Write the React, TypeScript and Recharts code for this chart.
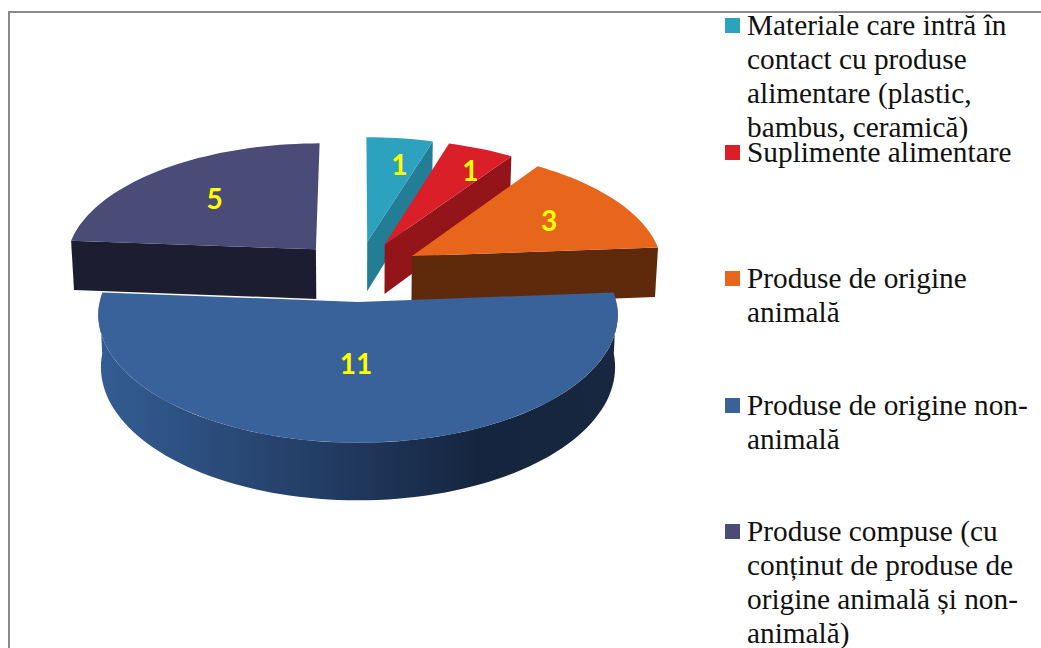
import { Legend, Pie, PieChart } from 'recharts';

const categories = [
  'Materiale care intră în contact cu produse alimentare (plastic, bambus, ceramică)',
  'Suplimente alimentare',
  'Produse de origine animală',
  'Produse de origine non-animală',
  'Produse compuse (cu conținut de produse de origine animală și non-animală)',
];
const counts = [1, 1, 3, 11, 5];

// top face, cut face / wall colours, same order as categories
const topColors = ['#2DA2BF', '#DA1F28', '#E8651C', '#386299', '#4A4B77'];
const wallColors = ['#237E95', '#931419', '#5E2A0B', '#1F3557', '#1C1D30'];
const labelReach = [0.72, 0.75, 0.64, 0.47, 0.6];
const labelNudgeX = [8, 12, 5, -2, -6];
const labelNudgeY = [-1, -1, 0, -1, -2];

// the compound slice is painted first so the big slice ends up in front of its wall
const paintOrder = [4, 0, 1, 2, 3];
const pieData = paintOrder.map((i) => ({
  name: categories[i],
  value: counts[i],
  fill: topColors[i],
  wall: wallColors[i],
  reach: labelReach[i],
  nudgeX: labelNudgeX[i],
  nudgeY: labelNudgeY[i],
}));
const total = counts.reduce((a, b) => a + b, 0);
const firstAngle = 90 + (360 * counts[4]) / total;

// fake 3D projection of the disc
const TILT = 0.478;
const PERSPECTIVE = 0.0985;
const EXPLODE = 0.25;
const DEPTH = 50.5;
const FLOOR_SHRINK = 0.99;

const rad = (deg: number) => (deg * Math.PI) / 180;

type Geo = { cx: number; cy: number; r: number; mid: number };

function project(g: Geo, angle: number, radius: number, floor = false) {
  const X = radius * Math.cos(rad(angle)) + EXPLODE * Math.cos(rad(g.mid));
  const Y = radius * Math.sin(rad(angle)) + EXPLODE * Math.sin(rad(g.mid));
  const d = 1 + PERSPECTIVE * Y;
  const x = g.cx + ((g.r * X) / d) * (floor ? FLOOR_SHRINK : 1);
  const y = g.cy + (-g.r * TILT * Y + (floor ? DEPTH : 0)) / d;
  return `${x.toFixed(1)} ${y.toFixed(1)}`;
}

function arc(g: Geo, from: number, to: number, floor = false) {
  const steps = Math.max(2, Math.ceil(Math.abs(to - from) / 2));
  const pts: string[] = [];
  for (let i = 0; i <= steps; i++) {
    pts.push(project(g, from + ((to - from) * i) / steps, 1, floor));
  }
  return pts;
}

const toPath = (pts: string[]) => `M${pts.join('L')}Z`;

function Slice3D(props: any) {
  const { cx, cy, outerRadius, startAngle, endAngle, fill, payload } = props;
  const wall = payload?.wall ?? props.wall;
  const mid = (startAngle + endAngle) / 2;
  const g: Geo = { cx, cy, r: outerRadius, mid };

  const cutFace = (a: number) => [
    project(g, a, 0),
    project(g, a, 1),
    project(g, a, 1, true),
    project(g, a, 0, true),
  ];
  const showEnd = Math.cos(rad(endAngle)) > 0.001;
  const showStart = Math.cos(rad(startAngle)) < -0.001;

  // outer wall only on the part of the rim that faces the viewer
  const rimFrom = Math.min(startAngle, 0);
  const rimTo = Math.max(endAngle, -180);
  const hasRim = rimFrom > rimTo;
  const gradId = 'rim-gradient';

  return (
    <g>
      <defs>
        <linearGradient id={gradId} gradientUnits="userSpaceOnUse" x1={cx - outerRadius} x2={cx + outerRadius} y1={0} y2={0}>
          <stop offset="0%" stopColor="#335C92" />
          <stop offset="50%" stopColor="#20375C" />
          <stop offset="74%" stopColor="#15253F" />
          <stop offset="100%" stopColor="#17273F" />
        </linearGradient>
      </defs>
      {showStart && <path d={toPath(cutFace(startAngle))} fill={wall} />}
      {showEnd && <path d={toPath(cutFace(endAngle))} fill={wall} />}
      {hasRim && (
        <path
          d={toPath([...arc(g, rimFrom, rimTo), ...arc(g, rimTo, rimFrom, true)])}
          fill={`url(#${gradId})`}
        />
      )}
      <path d={toPath([project(g, mid, 0), ...arc(g, startAngle, endAngle)])} fill={fill} />
    </g>
  );
}

function SliceLabel(props: any) {
  const { cx, cy, outerRadius, midAngle, value, payload } = props;
  const reach = payload?.reach ?? props.reach;
  const nudgeX = payload?.nudgeX ?? props.nudgeX;
  const nudgeY = payload?.nudgeY ?? props.nudgeY;
  const [x, y] = project({ cx, cy, r: outerRadius, mid: midAngle }, midAngle, reach).split(' ').map(Number);
  return (
    <text
      x={x + nudgeX}
      y={y + nudgeY}
      fill="#FFFF00"
      textAnchor="middle"
      dominantBaseline="central"
      fontFamily="Lato, sans-serif"
      fontWeight={700}
      fontSize={28}
    >
      {value}
    </text>
  );
}

function LegendList() {
  return (
    <div style={{ fontFamily: '"Liberation Serif", serif', fontSize: 29.3, lineHeight: '34px', color: '#111' }}>
      {categories.map((c, i) => (
        <div key={c} style={{ height: 126.5, position: 'relative', paddingLeft: 22 }}>
          <span
            style={{
              position: 'absolute',
              left: 0,
              top: 10,
              width: 15,
              height: 15,
              background: topColors[i],
            }}
          />
          {c}
        </div>
      ))}
    </div>
  );
}

export default function App() {
  return (
    <div style={{ position: 'absolute', left: 0, top: 0, width: 1041, height: 648, overflow: 'hidden', background: '#fff' }}>
      <div
        style={{
          position: 'absolute',
          left: 8,
          top: 11,
          width: 1041,
          height: 648,
          borderLeft: '2px solid #8A8A8A',
          borderTop: '2px solid #8A8A8A',
        }}
      />
      <PieChart width={1041} height={648} margin={{ top: 0, right: 0, bottom: 0, left: 0 }} style={{ position: 'absolute', left: 0, top: 0 }}>
        <Pie
          data={pieData}
          dataKey="value"
          nameKey="name"
          cx={358}
          cy={271}
          outerRadius={252}
          startAngle={firstAngle}
          endAngle={firstAngle - 360}
          stroke="none"
          shape={Slice3D}
          label={SliceLabel}
          labelLine={false}
          isAnimationActive={false}
        />
        <Legend
          layout="vertical"
          align="right"
          verticalAlign="top"
          content={LegendList}
          wrapperStyle={{ left: 725, top: 8, width: 312 }}
        />
      </PieChart>
    </div>
  );
}
